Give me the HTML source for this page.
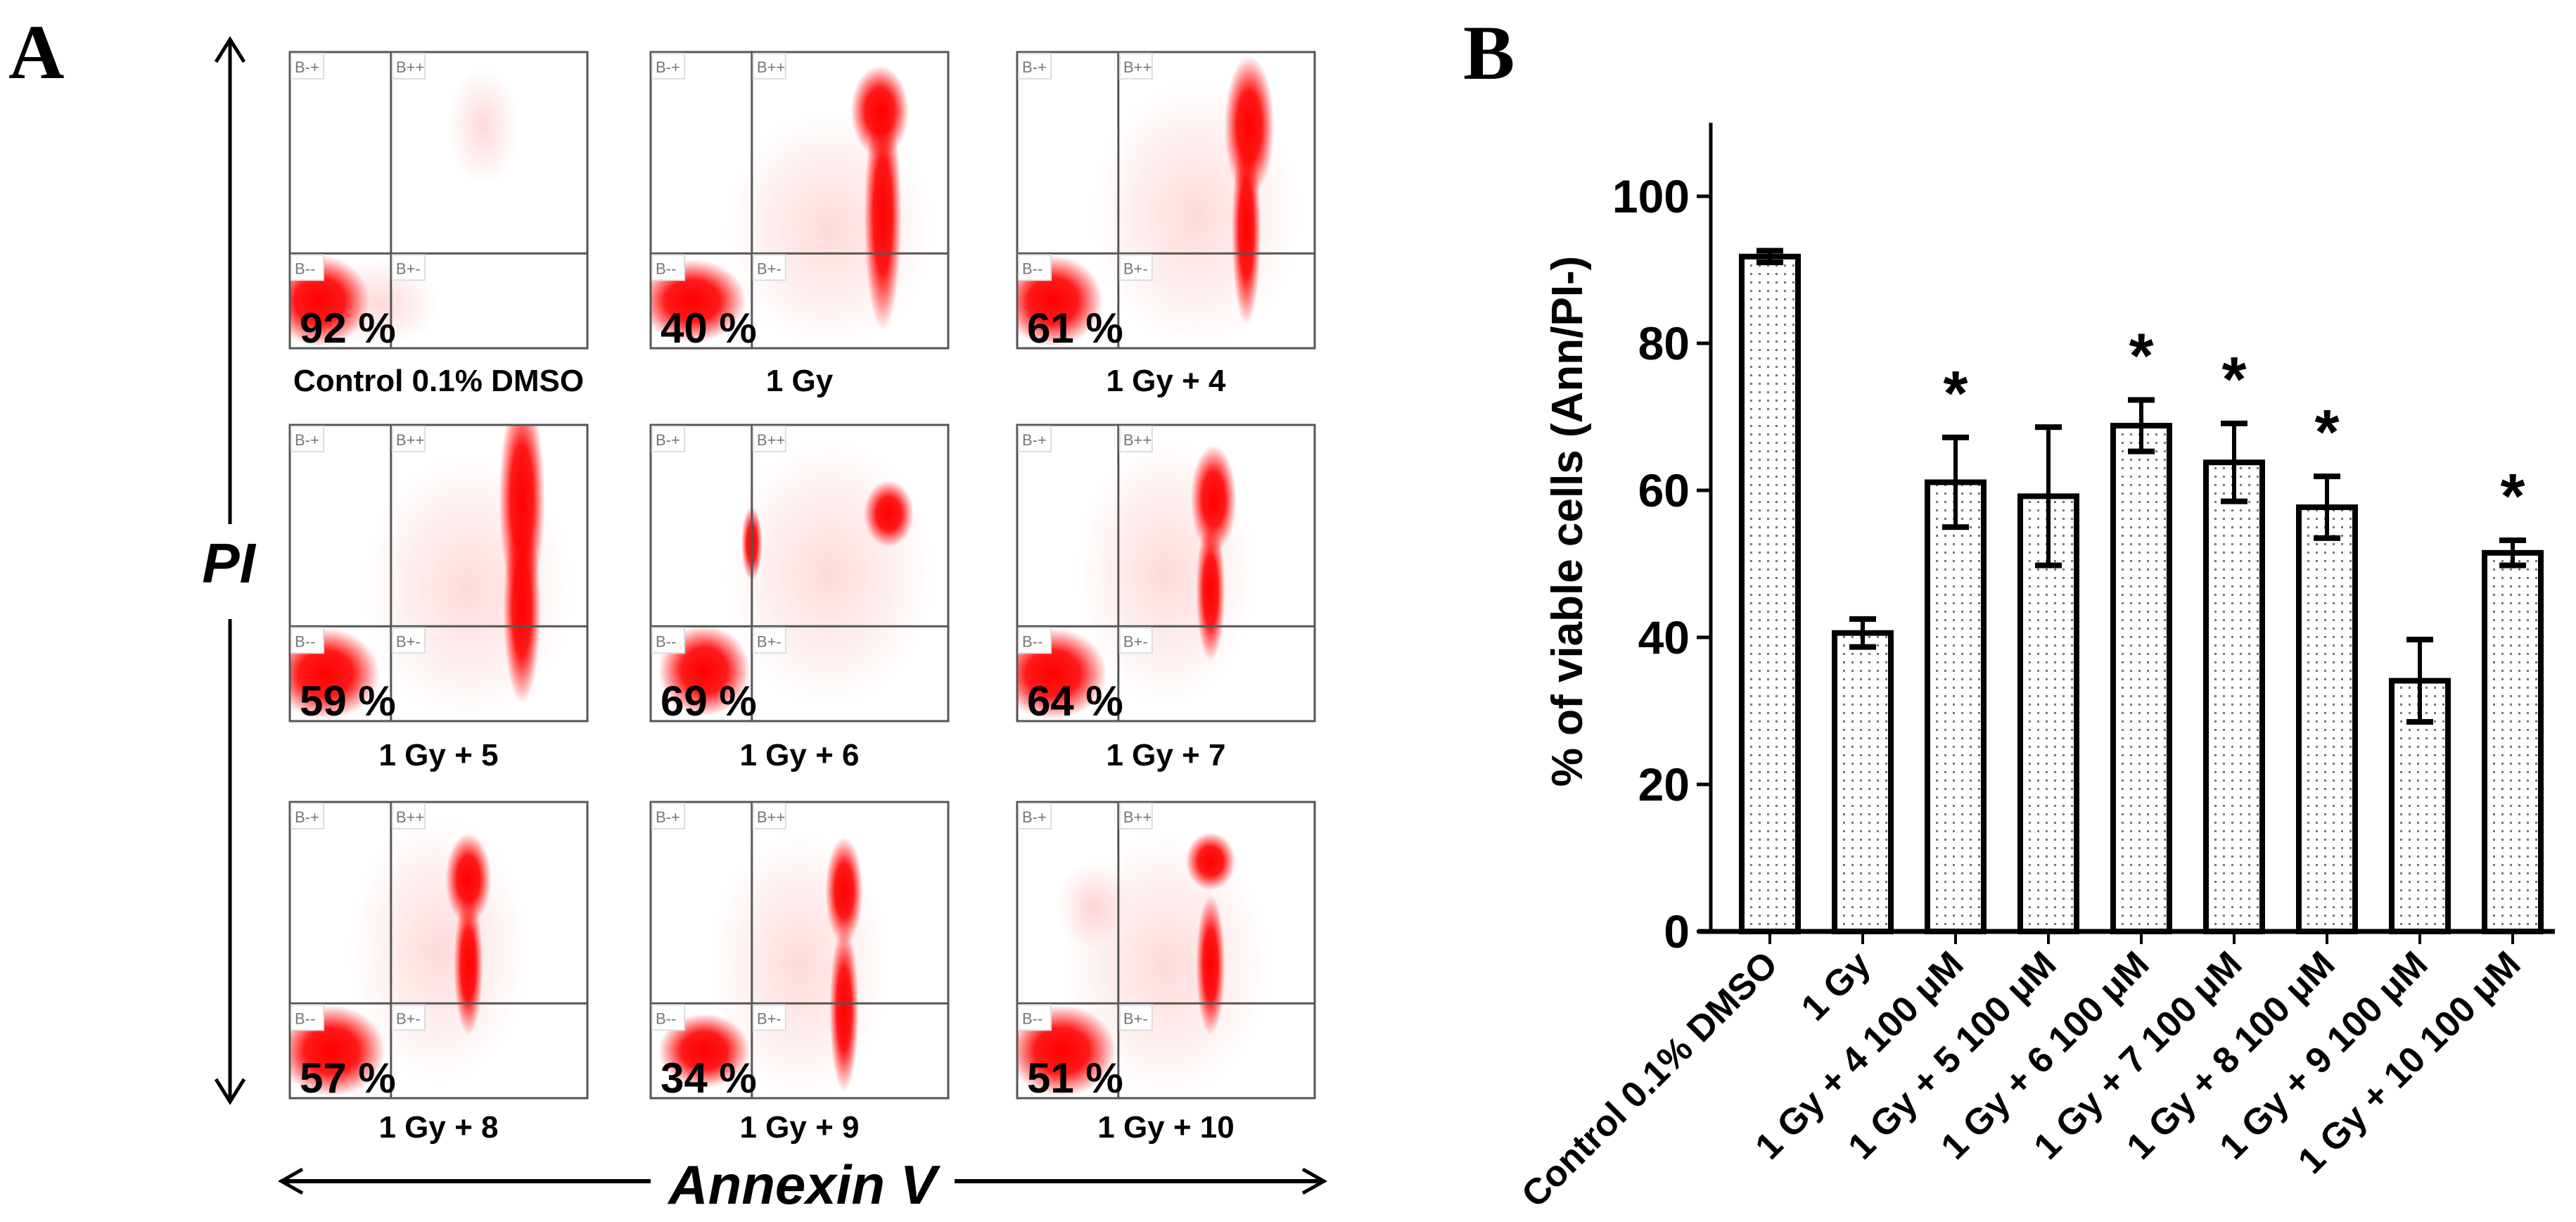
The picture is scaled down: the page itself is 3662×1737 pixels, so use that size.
<!DOCTYPE html>
<html><head><meta charset="utf-8"><style>
html,body{margin:0;padding:0;background:#fff;}
body{width:3662px;height:1737px;overflow:hidden;position:relative;}
svg{position:absolute;left:0;top:0;}
text{font-family:"Liberation Sans",Arial,sans-serif;}
</style></head><body>
<svg id="fig" width="3662" height="1737" viewBox="0 0 3662 1737">
<defs>
<pattern id="dots" width="12" height="12" patternUnits="userSpaceOnUse">
<rect width="12" height="12" fill="#fff"/>
<rect x="4" y="4" width="3" height="3" fill="#777"/>
</pattern>
<radialGradient id="blob">
<stop offset="0" stop-color="#f00" stop-opacity="1"/>
<stop offset="0.5" stop-color="#f00" stop-opacity="0.9"/>
<stop offset="1" stop-color="#f00" stop-opacity="0"/>
</radialGradient>
<radialGradient id="haze">
<stop offset="0" stop-color="#f44" stop-opacity="0.2"/>
<stop offset="1" stop-color="#f44" stop-opacity="0"/>
</radialGradient>
</defs>

<text x="12" y="111" font-weight="bold" font-size="110" style="font-family:'Liberation Serif',serif">A</text>
<g id="panelA"></g>
<g>
<line x1="327" y1="60" x2="327" y2="745" stroke="#000" stroke-width="5"/>
<line x1="327" y1="880" x2="327" y2="1562" stroke="#000" stroke-width="5"/>
<polyline points="307,88 327,56 347,88" fill="none" stroke="#000" stroke-width="5"/>
<polyline points="307,1534 327,1566 347,1534" fill="none" stroke="#000" stroke-width="5"/>
</g>
<text x="325" y="828" text-anchor="middle" font-weight="bold" font-style="italic" font-size="80">PI</text>
<g>
<line x1="400" y1="1679" x2="925" y2="1679" stroke="#000" stroke-width="6"/>
<line x1="1357" y1="1679" x2="1882" y2="1679" stroke="#000" stroke-width="6"/>
<polyline points="430,1662 400,1679 430,1696" fill="none" stroke="#000" stroke-width="5"/>
<polyline points="1852,1662 1882,1679 1852,1696" fill="none" stroke="#000" stroke-width="5"/>
</g>
<text x="1141" y="1711" text-anchor="middle" font-weight="bold" font-style="italic" font-size="78">Annexin V</text>

<text x="2080" y="112" font-weight="bold" font-size="110" style="font-family:'Liberation Serif',serif">B</text>
<g id="chartB"></g>
</svg>
<script>
var NS='http://www.w3.org/2000/svg';
function mk(tag,attrs,parent){var e=document.createElementNS(NS,tag);for(var k in attrs)e.setAttribute(k,attrs[k]);parent.appendChild(e);return e;}

var panelTitles=['Control 0.1% DMSO','1 Gy','1 Gy + 4','1 Gy + 5','1 Gy + 6','1 Gy + 7','1 Gy + 8','1 Gy + 9','1 Gy + 10'];
var panelPercents=[92,40,61,59,69,64,57,34,51];

(function(){
var g=document.getElementById('panelA');
var colX=[412,925,1446], rowY=[74,604,1140], W=423, H=421, labY=[556,1088,1617];
var clusters=[
 [[0.1,0.84,0.12,0.11,'b'],[0.65,0.25,0.12,0.2,'h'],[0.3,0.85,0.2,0.15,'h']],
 [[0.14,0.84,0.13,0.1,'b'],[0.77,0.2,0.07,0.11,'b'],[0.78,0.55,0.045,0.28,'b'],[0.6,0.6,0.35,0.4,'h']],
 [[0.12,0.84,0.12,0.11,'b'],[0.78,0.25,0.06,0.17,'b'],[0.77,0.6,0.035,0.23,'b'],[0.6,0.55,0.35,0.45,'h']],
 [[0.12,0.84,0.13,0.11,'b'],[0.78,0.25,0.055,0.26,'b'],[0.78,0.62,0.045,0.23,'b'],[0.6,0.55,0.35,0.45,'h']],
 [[0.18,0.83,0.11,0.11,'b'],[0.8,0.3,0.06,0.08,'b'],[0.34,0.4,0.025,0.09,'b'],[0.6,0.5,0.35,0.45,'h']],
 [[0.12,0.84,0.13,0.11,'b'],[0.66,0.25,0.055,0.13,'b'],[0.65,0.56,0.035,0.17,'b'],[0.5,0.5,0.3,0.45,'h']],
 [[0.14,0.84,0.13,0.11,'b'],[0.6,0.26,0.055,0.11,'b'],[0.6,0.55,0.035,0.17,'b'],[0.5,0.5,0.3,0.45,'h']],
 [[0.18,0.84,0.11,0.09,'b'],[0.65,0.3,0.045,0.13,'b'],[0.65,0.7,0.035,0.2,'b'],[0.5,0.55,0.3,0.45,'h']],
 [[0.15,0.84,0.13,0.11,'b'],[0.65,0.2,0.06,0.07,'b'],[0.65,0.55,0.035,0.17,'b'],[0.25,0.35,0.12,0.15,'h'],[0.5,0.55,0.35,0.45,'h']]
];
for(var i=0;i<9;i++){
 var x0=colX[i%3], y0=rowY[Math.floor(i/3)], pg=mk('g',{},g);
 
 
 var cp=mk('clipPath',{id:'cp'+i},pg); mk('rect',{x:x0,y:y0,width:W,height:H},cp);
 var cg=mk('g',{'clip-path':'url(#cp'+i+')'},pg);
 clusters[i].slice().reverse().forEach(function(c){
  mk('ellipse',{cx:x0+c[0]*W,cy:y0+c[1]*H,rx:c[2]*W*(c[4]=='b'?1.4:1),ry:c[3]*H*(c[4]=='b'?1.4:1),fill:c[4]=='b'?'url(#blob)':'url(#haze)'},cg);
 });
 var qx=x0+0.34*W, qy=y0+0.68*H;
 mk('rect',{x:x0,y:y0,width:W,height:H,fill:'none',stroke:'#555','stroke-width':3},pg);
 mk('line',{x1:qx,y1:y0,x2:qx,y2:y0+H,stroke:'#555','stroke-width':3},pg);
 mk('line',{x1:x0,y1:qy,x2:x0+W,y2:qy,stroke:'#555','stroke-width':3},pg);
 [['B-+',x0,y0],['B++',qx,y0],['B--',x0,qy],['B+-',qx,qy]].forEach(function(q){
  mk('rect',{x:q[1]+2,y:q[2]+2,width:46,height:36,fill:'#fff',stroke:'#ddd','stroke-width':2},pg);
  var t=mk('text',{x:q[1]+7,y:q[2]+29,'font-size':22,fill:'#777'},pg); t.textContent=q[0];
 });
 var pt=mk('text',{x:x0+14,y:y0+H-8,'font-size':60,'font-weight':'bold',fill:'#000'},pg);
 
 
 pt.textContent=panelPercents[i]+' %';
 var lt=mk('text',{x:x0+W/2,y:labY[Math.floor(i/3)],'font-size':44,'font-weight':'bold','text-anchor':'middle'},g);
 
 
 lt.textContent=panelTitles[i];
}
})();

var categories=['Control 0.1% DMSO','1 Gy','1 Gy + 4 100 \u03bcM','1 Gy + 5 100 \u03bcM','1 Gy + 6 100 \u03bcM','1 Gy + 7 100 \u03bcM','1 Gy + 8 100 \u03bcM','1 Gy + 9 100 \u03bcM','1 Gy + 10 100 \u03bcM'];
var values=[91.8,40.6,61.1,59.2,68.8,63.8,57.7,34.1,51.5];
var errors=[0.8,1.9,6.1,9.4,3.5,5.3,4.2,5.6,1.7];
var significant=[false,false,true,false,true,true,true,false,true];
var yTicks=[0,20,40,60,80,100];

(function(){
var g=document.getElementById('chartB');
var axX=2432, y0=1324, pxPer=10.45, yMax=110, firstX=2516, step=132, bw=80;
function yS(v){return y0-v*pxPer;}
function xS(i){return firstX+i*step;}
var ya=mk('line',{x1:axX,y1:yS(yMax),x2:axX,y2:y0+3,stroke:'#000','stroke-width':5},g);
 
var xa=mk('line',{x1:axX-18,y1:y0,x2:3632,y2:y0,stroke:'#000','stroke-width':7},g);
 
yTicks.forEach(function(t){
 mk('line',{x1:axX-20,y1:yS(t),x2:axX,y2:yS(t),stroke:'#000','stroke-width':5},g);
 var tx=mk('text',{x:axX-30,y:yS(t)+23,'font-size':66,'font-weight':'bold','text-anchor':'end'},g);
 
 
 tx.textContent=t;
});
var yt=mk('text',{x:0,y:0,'font-size':62,'font-weight':'bold','text-anchor':'middle',transform:'translate(2249,741) rotate(-90)'},g);


yt.textContent='% of viable cells (Ann/PI-)';
values.forEach(function(v,i){
 var cx=xS(i);
 var r=mk('rect',{x:cx-bw/2,y:yS(v),width:bw,height:y0-yS(v),fill:'url(#dots)',stroke:'#000','stroke-width':8},g);
 
 
 var top=yS(v+errors[i]), bot=yS(v-errors[i]);
 var eg=mk('g',{stroke:'#000'},g);
 
 
 mk('line',{x1:cx,y1:top,x2:cx,y2:bot,'stroke-width':6},eg);
 mk('line',{x1:cx-19,y1:top,x2:cx+19,y2:top,'stroke-width':8},eg);
 mk('line',{x1:cx-19,y1:bot,x2:cx+19,y2:bot,'stroke-width':8},eg);
 if(significant[i]){
  var s=mk('text',{x:cx,y:top-32,'font-size':90,'font-weight':'bold','text-anchor':'middle'},g);
  
  
  s.textContent='*';
 }
 mk('line',{x1:cx,y1:y0,x2:cx,y2:y0+18,stroke:'#000','stroke-width':4},g);
 var lb=mk('text',{x:0,y:0,'font-size':52,'font-weight':'bold','text-anchor':'end',transform:'translate('+(cx+14)+','+(y0+50)+') rotate(-45)'},g);
 
 
 lb.textContent=categories[i];
});
})();
</script>
</body></html>
